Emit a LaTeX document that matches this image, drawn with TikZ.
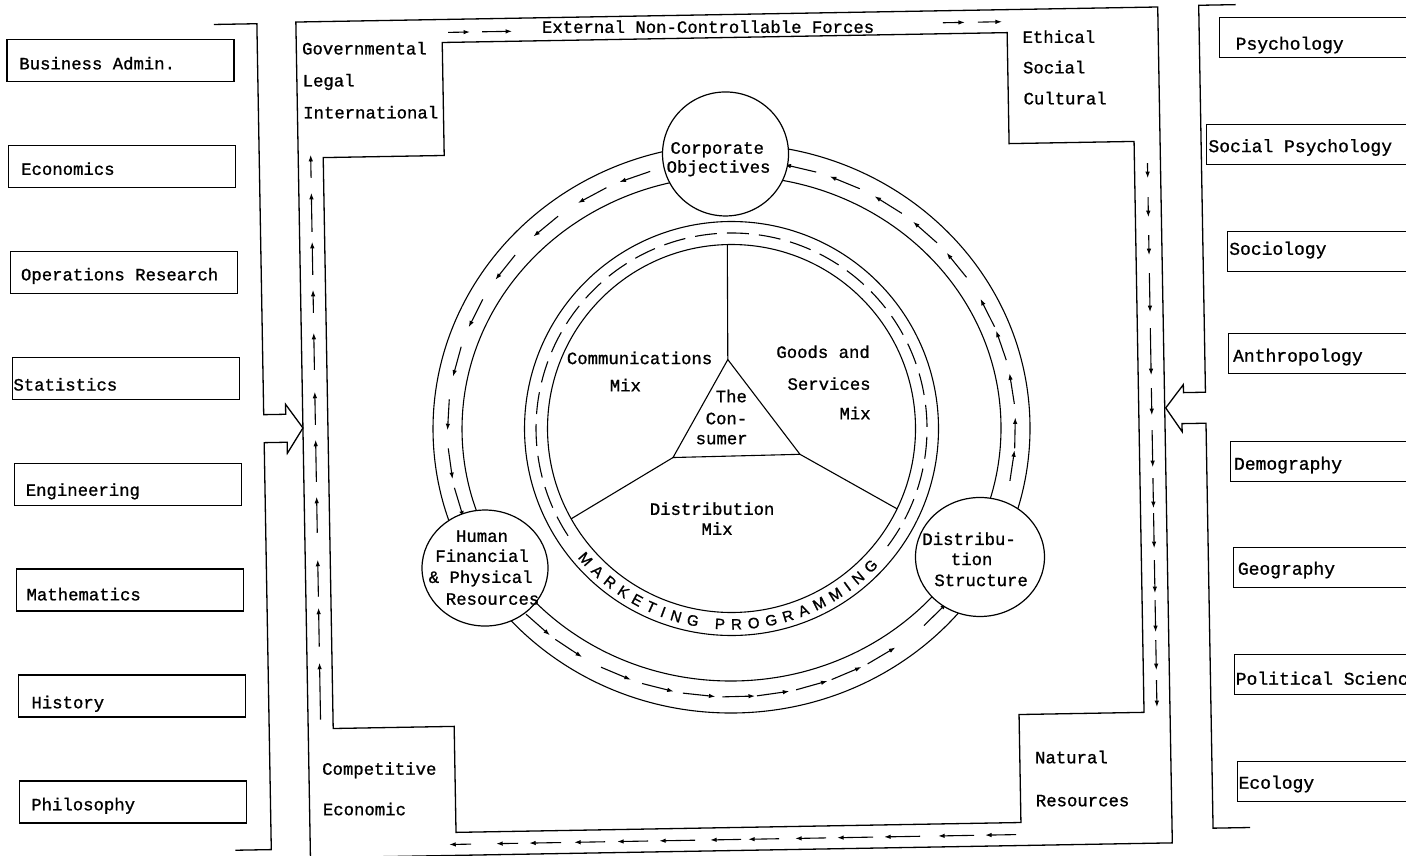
\documentclass[tikz,border=0pt]{standalone}
\usepackage{fontspec}
\usetikzlibrary{arrows.meta,decorations.text,shapes.geometric}
\newfontfamily\typewriter{Liberation Mono}[FakeBold=1.0]
\newfontfamily\lettering{Liberation Sans}[FakeBold=1.2]
\begin{document}
\begin{tikzpicture}[x=1pt,y=-1pt,
  tw/.style={font=\typewriter\fontsize{17.3}{20}\selectfont, inner sep=0pt},
  twr/.style={font=\typewriter\fontsize{18}{20}\selectfont, inner sep=0pt, anchor=base west},
  ln/.style={line width=1.3pt},
  thinln/.style={line width=1.1pt},
  lbox/.style={draw, line width=1.1pt, minimum width=227pt, minimum height=42pt, inner sep=0pt},
  rbox/.style={draw, line width=1.1pt, minimum width=240pt, minimum height=40pt, inner sep=0pt, anchor=west},
  flow/.style={line width=1.1pt, -{Latex[length=6.5pt,width=4.5pt]}},
  sat/.style={draw, ellipse, line width=1.2pt, fill=white, inner sep=0pt},
]
\useasboundingbox (0,0) rectangle (1406,856);
\clip (0,0) rectangle (1406,856);
\fill[white] (0,0) rectangle (1406,856);
\begin{scope}[rotate around={1:(703,428)}]

% ---------- disciplines on the left ----------
\node[lbox] (ba) at (127,50) {};
\node[lbox] (ec) at (127,156) {};
\node[lbox] (or) at (127,262) {};
\node[lbox] (st) at (127,368) {};
\node[lbox] (en) at (127,474) {};
\node[lbox] (ma) at (127,580) {};
\node[lbox] (hi) at (127,686) {};
\node[lbox] (ph) at (127,792) {};
\node[tw, anchor=base west] (tba) at (25.5,57.5) {Business Admin.};
\node[tw, anchor=base west] (tec) at (25.5,163) {Economics};
\node[tw, anchor=base west] (tor) at (23.5,268.5) {Operations Research};
\node[tw, anchor=base west] (tst) at (14,378.5) {Statistics};
\node[tw, anchor=base west] (ten) at (24.5,484) {Engineering};
\node[tw, anchor=base west] (tma) at (23.5,588.5) {Mathematics};
\node[tw, anchor=base west] (thi) at (26.5,696.5) {History};
\node[tw, anchor=base west] (tph) at (24.5,798.5) {Philosophy};

% left bracket with block arrow
\draw[ln] (221,16) -- (264,16) -- (264,407) -- (286,407) -- (286,397) -- (303,421)
  -- (287,446) -- (287,435) -- (264,435) -- (264,842) -- (228,842);

% ---------- disciplines on the right ----------
\node[rbox] (ps) at (1226,46.6) {};
\node[rbox] (sp) at (1211,153) {};
\node[rbox] (so) at (1230,260.6) {};
\node[rbox] (an) at (1229,363) {};
\node[rbox] (de) at (1229,470.6) {};
\node[rbox] (ge) at (1230,576.6) {};
\node[rbox] (po) at (1230,683.6) {};
\node[rbox] (eco) at (1231,790.6) {};
\node[twr] (tps) at (1242,59) {Psychology};
\node[twr] (tsp) at (1213,161) {Social Psychology};
\node[twr] (tso) at (1232,264) {Sociology};
\node[twr] (tan) at (1234,371) {Anthropology};
\node[twr] (tde) at (1233,479) {Demography};
\node[twr] (tge) at (1235,584) {Geography};
\node[twr] (tpo) at (1231,694) {Political Science};
\node[twr] (teco) at (1232,798) {Ecology};

% right bracket with block arrow
\draw[ln] (1243,14) -- (1206,14) -- (1206,401) -- (1184,401) -- (1184,393) -- (1166,416)
  -- (1182,440) -- (1182,432) -- (1206,432) -- (1206,837) -- (1243,837);

% ---------- frame of external forces ----------
\draw[ln] (303,15) rectangle (1165,851);
\draw[ln] (449,38) -- (1014,38) -- (1014,149) -- (1139,149) -- (1139,720) -- (1014,720)
  -- (1014,828) -- (449,828) -- (449,722) -- (328,722) -- (328,151) -- (449,151) -- cycle;

\node[tw, anchor=base] (ext) at (715,33) {External Non-Controllable Forces};
\node[tw, anchor=base west] (g1) at (308.5,47.5) {Governmental};
\node[tw, anchor=base west] (g2) at (308.5,79.5) {Legal};
\node[tw, anchor=base west] (g3) at (308.5,111.5) {International};
\node[tw, anchor=base west] (e1) at (1029,48.5) {Ethical};
\node[tw, anchor=base west] (e2) at (1029,79) {Social};
\node[tw, anchor=base west] (e3) at (1029,110) {Cultural};
\node[tw, anchor=base west] (c1) at (316,768) {Competitive};
\node[tw, anchor=base west] (c2) at (316,808.5) {Economic};
\node[tw, anchor=base west] (n1) at (1029,769) {Natural};
\node[tw, anchor=base west] (n2) at (1029,812) {Resources};

% flow marks in the frame
\draw[flow] (455,28) -- (477,28);
\draw[flow] (489,28) -- (519,28);
\draw[flow] (950,27) -- (972,27);
\draw[flow] (985,27) -- (1009,27);
\foreach \a/\b in {171/148, 225/186, 268/235, 306/283, 363/326, 418/385, 475/433,
                   526/490, 590/553, 640/601, 713/656}
  \draw[flow] (315.5,\a) -- (315.5,\b);
\foreach \a/\b in {171/186, 205/225, 243/263, 281/320, 336/383, 396/423, 438/475,
                   486/516, 521/556, 568/601, 608/640, 648/678, 688/715}
  \draw[flow] (1152,\a) -- (1152,\b);
\foreach \a/\b in {464/442, 511/489, 554/522, 598/567, 641/610, 688/652, 734/703,
                   772/741, 819/788, 866/830, 913/877, 967/931, 1009/978}
  \draw[flow] (\a,840) -- (\b,840);

% ---------- outer ring of resources ----------
\coordinate (rc) at (731.5,429);
\draw[thinln] (rc) ellipse[x radius=298.5, y radius=284.5];
\draw[thinln] (rc) ellipse[x radius=269.5, y radius=252.5];
\foreach \t in {109,118.5,130,142,153.5,164.5,176,186.5,195,
                226,234,245,254,262.5,270.5,277.5,285.5,293,301,315,
                -9,-2,7.5,17,24.5,36.5,46,55.5,65.5,75}
  \draw[flow] ({731.5+284*cos(\t-3.3)},{429-268.5*sin(\t-3.3)})
           -- ({731.5+284*cos(\t+3.3)},{429-268.5*sin(\t+3.3)});

\node[sat, minimum width=126pt, minimum height=124pt] (co) at (730.3,154.4) {};
\node[sat, minimum width=126pt, minimum height=116pt] (hu) at (482.6,564.2) {};
\node[sat, minimum width=129pt, minimum height=119pt] (ds) at (977.7,561.8) {};

\node[tw, anchor=base] (co1) at (722,154) {Corporate};
\node[tw, anchor=base] (co2) at (723,173) {Objectives};
\node[tw, anchor=base] (hu1) at (480.1,538) {Human};
\node[tw, anchor=base] (hu2) at (479.8,558) {Financial};
\node[tw, anchor=base] (hu3) at (478,579) {\& Physical};
\node[tw, anchor=base] (hu4) at (489.5,601) {Resources};
\node[tw, anchor=base] (ds1) at (967,549.6) {Distribu-};
\node[tw, anchor=base] (ds2) at (969.2,569.7) {tion};
\node[tw, anchor=base] (ds3) at (978.3,590.9) {Structure};

% ---------- marketing programming ring ----------
\coordinate (mc) at (731.5,429);
\draw[thinln] (mc) circle[radius=207];
\draw[thinln] (mc) circle[radius=184];
\draw[thinln, dash pattern=on 22pt off 10pt]
  ([shift={(38:195.5)}]mc) arc[start angle=38, end angle=-215, radius=195.5];
\path[decorate, decoration={text along path, text align={fit to path},
  text={|\lettering\fontsize{15}{15}\selectfont|MARKETING PROGRAMMING}}]
  ([shift={(-219:201)}]mc) arc[start angle=-219, end angle=-316, radius=201];

% the consumer and the three mixes
\coordinate (tt) at (729,360);
\coordinate (tl) at (672.5,457);
\coordinate (tr) at (799.5,456);
\coordinate (st) at (730.5,245);
\coordinate (sl) at (569.6,516.5);
\coordinate (sr) at (895.6,512.2);
\draw[thinln] (tt) -- (tl) -- (tr) -- cycle;
\draw[thinln] (tt) -- (st);
\draw[thinln] (tl) -- (sl);
\draw[thinln] (tr) -- (sr);

\node[tw, anchor=base] (cm1) at (640.7,363) {Communications};
\node[tw, anchor=base] (cm2) at (626,390) {Mix};
\node[tw, anchor=base] (gs1) at (824.3,360) {Goods and};
\node[tw, anchor=base] (gs2) at (829.7,392) {Services};
\node[tw, anchor=base] (gs3) at (855.2,422) {Mix};
\node[tw, anchor=base east] (cs1) at (747.5,403) {The};
\node[tw, anchor=base east] (cs2) at (747.5,425) {Con-};
\node[tw, anchor=base east] (cs3) at (747.5,445) {sumer};
\node[tw, anchor=base] (dm1) at (710.6,515) {Distribution};
\node[tw, anchor=base] (dm2) at (715.2,535) {Mix};

\end{scope}
\end{tikzpicture}
\end{document}
